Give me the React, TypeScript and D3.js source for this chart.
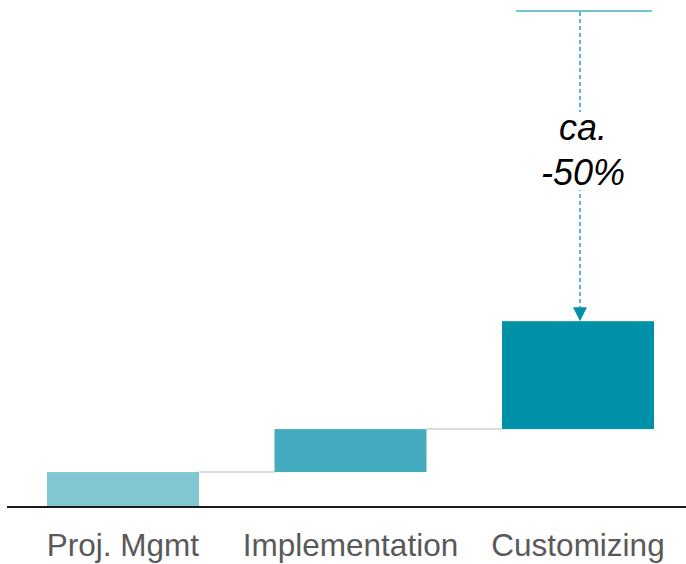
import React from "react";
import * as d3 from "d3";

const categories = ["Proj. Mgmt", "Implementation", "Customizing"];
const values = [10.0, 12.3, 30.9];
const referenceValue = 142;
const annotationLines = ["ca.", "-50%"];
const barColors = ["#80C7D2", "#42ACBE", "#0091A9"];

const W = 686;
const H = 564;

export default function App() {
  const x = d3.scaleBand<string>().domain(categories).range([47, 654]).paddingInner(0.332).paddingOuter(0);
  const y = d3.scaleLinear().domain([0, referenceValue]).range([507, 11]);

  let cum = 0;
  const bars = values.map((v, i) => {
    const start = cum;
    cum += v;
    return { cat: categories[i], start, end: cum, color: barColors[i] };
  });

  const last = bars[bars.length - 1];
  const ax = (x(last.cat) as number) + x.bandwidth() / 2 + 2;
  const refY = y(referenceValue);
  const tipY = y(last.end);
  const font = "'Liberation Sans', Arial, sans-serif";

  return (
    <svg width={W} height={H} style={{ position: "absolute", left: 0, top: 0 }}>
      <rect width={W} height={H} fill="#fff" />
      {bars.slice(0, -1).map((b, i) => (
        <line
          key={"c" + i}
          x1={(x(b.cat) as number) + x.bandwidth()}
          x2={x(bars[i + 1].cat) as number}
          y1={y(b.end)}
          y2={y(b.end)}
          stroke="#DCDCDC"
          strokeWidth={2}
        />
      ))}
      {bars.map((b) => (
        <rect
          key={b.cat}
          x={x(b.cat) as number}
          width={x.bandwidth()}
          y={y(b.end)}
          height={y(b.start) - y(b.end)}
          fill={b.color}
        />
      ))}
      <line x1={7} x2={686} y1={y(0)} y2={y(0)} stroke="#1a1a1a" strokeWidth={2} />
      {categories.map((c) => (
        <text
          key={"l" + c}
          x={(x(c) as number) + x.bandwidth() / 2}
          y={556}
          textAnchor="middle"
          fontFamily={font}
          fontSize={31.5}
          fill="#595959"
        >
          {c}
        </text>
      ))}
      <line x1={516} x2={652} y1={refY} y2={refY} stroke="#42ACBE" strokeWidth={1.5} />
      <line
        x1={ax}
        x2={ax}
        y1={refY + 1}
        y2={tipY - 12}
        stroke="#2AA5BC"
        strokeWidth={1.5}
        strokeDasharray="4 3"
      />
      <path
        d={`M${ax - 7},${tipY - 14} L${ax + 7},${tipY - 14} L${ax},${tipY} Z`}
        fill="#0091A9"
      />
      <rect x={ax - 45} y={112} width={90} height={78} fill="#fff" />
      {annotationLines.map((t, i) => (
        <text
          key={"a" + i}
          x={ax + 3}
          y={140 + i * 45}
          textAnchor="middle"
          fontFamily={font}
          fontStyle="italic"
          fontSize={36}
          fill="#000"
        >
          {t}
        </text>
      ))}
    </svg>
  );
}
